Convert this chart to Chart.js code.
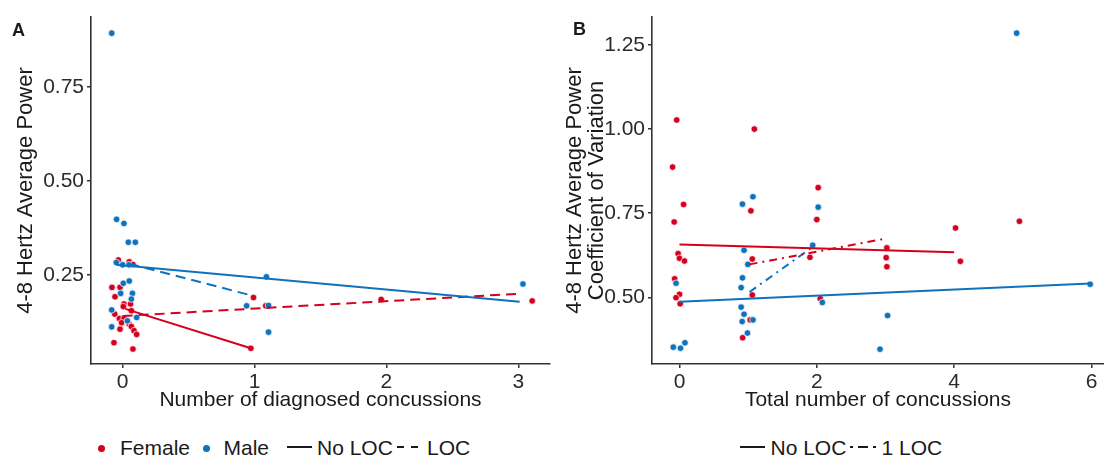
<!DOCTYPE html>
<html><head><meta charset="utf-8">
<script src="https://cdn.jsdelivr.net/npm/chart.js@4.4.1/dist/chart.umd.min.js"></script>
<style>
html,body{margin:0;padding:0;background:#fff;}
#wrap{position:relative;width:1104px;height:458px;overflow:hidden;font-family:'Liberation Sans',Arial,sans-serif;color:#1a1a1a;}
canvas{position:absolute;top:0;}
.t{position:absolute;font-size:21px;line-height:21px;white-space:nowrap;top:437px;}
.lab{position:absolute;font-size:18px;line-height:18px;font-weight:bold;}
.dot{position:absolute;width:7px;height:7px;border-radius:50%;top:444.5px;}
svg{position:absolute;overflow:visible;}
</style></head><body>
<div id="wrap">
<canvas id="ca" width="560" height="420" style="left:0px"></canvas>
<canvas id="cb" width="552" height="420" style="left:556px"></canvas>
<div class="lab" style="left:12px;top:21px">A</div>
<div class="lab" style="left:573px;top:20px">B</div>
<!-- legend A -->
<div class="dot" style="left:98px;background:#D4001E"></div>
<div class="t" style="left:120px">Female</div>
<div class="dot" style="left:202.5px;background:#0F72BC"></div>
<div class="t" style="left:223.5px">Male</div>
<svg width="30" height="6" style="left:287px;top:444px"><line x1="0" y1="3" x2="25" y2="3" stroke="#1a1a1a" stroke-width="2"/></svg>
<div class="t" style="left:317px">No LOC</div>
<svg width="30" height="6" style="left:397px;top:444px"><line x1="0" y1="3" x2="22" y2="3" stroke="#1a1a1a" stroke-width="2" stroke-dasharray="7,7"/></svg>
<div class="t" style="left:427px">LOC</div>
<!-- legend B -->
<svg width="30" height="6" style="left:740px;top:444px"><line x1="0" y1="3" x2="25" y2="3" stroke="#1a1a1a" stroke-width="2"/></svg>
<div class="t" style="left:770.5px">No LOC</div>
<svg width="30" height="6" style="left:850px;top:444px"><line x1="0" y1="3" x2="28" y2="3" stroke="#1a1a1a" stroke-width="2" stroke-dasharray="3,5,10,5,3,10"/></svg>
<div class="t" style="left:881.5px">1 LOC</div>
</div>
<script>
const RED = '#D4001E', BLUE = '#0F72BC';
const FONT = "'Liberation Sans', Arial, sans-serif";

// ---------- Panel A data ----------
const aFemaleX = [-0.033,0.05,0.078,-0.081,-0.02,-0.058,0.01,0.06,-0.06,0.005,0.066,-0.025,0.01,-0.008,0.048,0.066,0.086,0.106,-0.02,-0.066,0.078,0.992,1.085,0.972,1.96,3.105];
const aFemaleY = [0.290,0.285,0.278,0.217,0.217,0.192,0.173,0.173,0.146,0.166,0.155,0.134,0.135,0.123,0.120,0.113,0.102,0.092,0.106,0.070,0.053,0.190,0.168,0.055,0.185,0.181];
const aMaleX = [-0.083,-0.046,0.01,0.043,0.096,-0.048,0.0,0.048,0.005,0.05,-0.015,0.074,0.066,-0.083,0.036,0.106,-0.083,0.94,1.09,1.106,1.106,3.035];
const aMaleY = [0.893,0.398,0.387,0.337,0.337,0.283,0.277,0.277,0.228,0.234,0.201,0.201,0.186,0.157,0.128,0.137,0.112,0.168,0.245,0.169,0.098,0.226];
const aMaleNoLocX = [-0.05,3.01], aMaleNoLocY = [0.277,0.179];
const aMaleLocX = [0.05,0.95], aMaleLocY = [0.280,0.198];
const aFemaleNoLocX = [0.02,0.972], aFemaleNoLocY = [0.160,0.055];
const aFemaleLocX = [0.0,3.0], aFemaleLocY = [0.141,0.200];
const aXTicks = [0,1,2,3], aXLabels = ['0','1','2','3'];
const aYTicks = [0.25,0.5,0.75], aYLabels = ['0.25','0.50','0.75'];

// ---------- Panel B data ----------
const bFemaleX = [-0.04,1.09,-0.10,2.02,0.06,1.04,-0.077,2.0,-0.02,0,0.073,1.06,1.90,3.02,3.01,3.02,-0.07,0,-0.05,1.06,0.01,2.05,1.03,0.92,4.95,4.02,4.09];
const bFemaleY = [1.027,1.0,0.887,0.826,0.776,0.757,0.724,0.731,0.63,0.616,0.608,0.614,0.619,0.647,0.618,0.591,0.555,0.509,0.499,0.507,0.481,0.496,0.433,0.38,0.726,0.706,0.607];
const bMaleX = [1.07,0.917,2.02,1.94,0.94,0.996,0.917,-0.05,0.898,2.08,0.898,0.94,0.913,1.07,3.03,0.99,-0.09,0.015,0.08,2.92,4.91,5.98];
const bMaleY = [0.799,0.777,0.768,0.655,0.64,0.598,0.558,0.542,0.529,0.485,0.471,0.45,0.428,0.433,0.446,0.394,0.352,0.349,0.365,0.346,1.285,0.539];
const bFemaleNoLocX = [0,4.0], bFemaleNoLocY = [0.657,0.634];
const bMaleNoLocX = [0,5.98], bMaleNoLocY = [0.487,0.541];
const bFemale1LocX = [1.02,2.96], bFemale1LocY = [0.598,0.673];
const bMale1LocX = [1.02,1.94], bMale1LocY = [0.516,0.650];
const bXTicks = [0,2,4,6], bXLabels = ['0','2','4','6'];
const bYTicks = [0.5,0.75,1.0,1.25], bYLabels = ['0.50','0.75','1.00','1.25'];

const pts = (xs, ys) => xs.map((x, i) => ({x, y: ys[i]}));
function pointSet(xs, ys, color) {
  return {data: pts(xs, ys), backgroundColor: color, borderColor: 'rgba(255,255,255,0.9)', borderWidth: 0.8,
          pointRadius: 3.3, pointHoverRadius: 3.3, showLine: false, order: 2};
}
function lineSet(xs, ys, color, dash) {
  return {data: pts(xs, ys), borderColor: color, backgroundColor: color, borderWidth: 2, borderDash: dash || [],
          pointRadius: 0, pointHoverRadius: 0, showLine: true, fill: false, order: 1};
}

function axisCommon(ticks, labels) {
  return {
    type: 'linear',
    afterBuildTicks: s => { s.ticks = ticks.map(v => ({value: v})); },
    ticks: {font: {family: FONT, size: 21}, color: '#2b2b2b', padding: 2,
            callback: (v, i) => labels[i]},
    grid: {drawOnChartArea: false, drawTicks: true, tickLength: 4, color: '#333', lineWidth: 1.5},
    border: {display: true, color: '#333', width: 1.6}
  };
}

function makeChart(id, datasets, o) {
  const x = Object.assign(axisCommon(o.xTicks, o.xLabels), {
    min: o.xMin, max: o.xMax, position: 'bottom',
    title: {display: true, text: o.xTitle, color: '#1a1a1a', font: {family: FONT, size: 21, lineHeight: 1.2}, padding: 0},
    afterFit: s => { s.height = o.xH; s.paddingLeft = 0; s.paddingRight = 0; }
  });
  x.ticks.padding = 2;
  const y = Object.assign(axisCommon(o.yTicks, o.yLabels), {
    min: o.yMin, max: o.yMax, position: 'left',
    title: {display: true, text: o.yTitle, color: '#1a1a1a', font: {family: FONT, size: o.yFS, lineHeight: o.yLH}, padding: 0},
    afterFit: s => { s.width = o.yW; s.paddingTop = 0; s.paddingBottom = 0; }
  });
  y.ticks.padding = 3;
  return new Chart(document.getElementById(id), {
    type: 'scatter',
    data: {datasets},
    options: {
      responsive: false, animation: false, devicePixelRatio: 1,
      events: [],
      layout: {padding: o.pad},
      plugins: {legend: {display: false}, tooltip: {enabled: false}},
      scales: {x, y}
    }
  });
}

makeChart('ca', [
  lineSet(aMaleNoLocX, aMaleNoLocY, BLUE),
  lineSet(aMaleLocX, aMaleLocY, BLUE, [10, 6]),
  lineSet(aFemaleNoLocX, aFemaleNoLocY, RED),
  lineSet(aFemaleLocX, aFemaleLocY, RED, [10, 6]),
  pointSet(aMaleX, aMaleY, BLUE),
  pointSet(aFemaleX, aFemaleY, RED)
], {
  xTicks: aXTicks, xLabels: aXLabels, yTicks: aYTicks, yLabels: aYLabels,
  xMin: -0.24, xMax: 3.24, yMin: 0.0133, yMax: 0.936,
  xTitle: 'Number of diagnosed concussions', yTitle: '4-8 Hertz Average Power', yFS: 22, yLH: 1.2,
  xH: 48.6, yW: 77.8, pad: {left: 13.2, right: 10, top: 17, bottom: 7.4}
});

makeChart('cb', [
  lineSet(bFemaleNoLocX, bFemaleNoLocY, RED),
  lineSet(bMaleNoLocX, bMaleNoLocY, BLUE),
  lineSet(bFemale1LocX, bFemale1LocY, RED, [8, 5, 2, 5]),
  lineSet(bMale1LocX, bMale1LocY, BLUE, [8, 5, 2, 5]),
  pointSet(bMaleX, bMaleY, BLUE),
  pointSet(bFemaleX, bFemaleY, RED)
], {
  xTicks: bXTicks, xLabels: bXLabels, yTicks: bYTicks, yLabels: bYLabels,
  xMin: -0.40, xMax: 6.18, yMin: 0.302, yMax: 1.333,
  xTitle: 'Total number of concussions', yTitle: ['4-8 Hertz Average Power', 'Coefficient of Variation'], yFS: 22, yLH: 1.0,
  xH: 48.6, yW: 88, pad: {left: 8, right: 0, top: 17, bottom: 7.4}
});
</script>
</body></html>
